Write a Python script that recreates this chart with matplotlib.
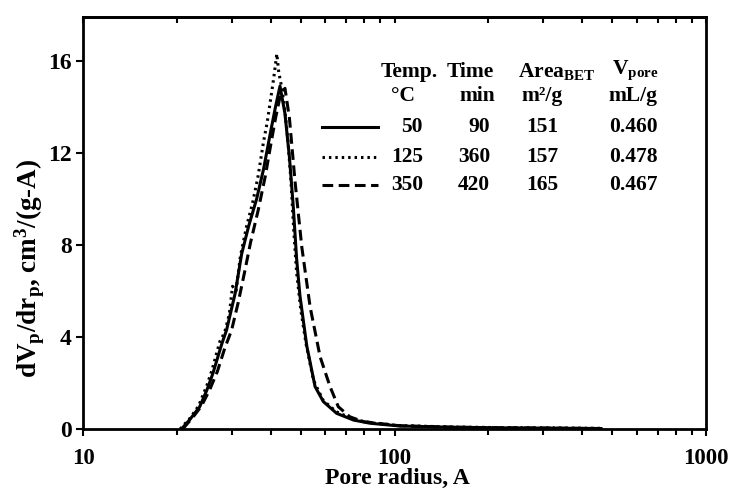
import numpy as np
import matplotlib
matplotlib.use('Agg')
import matplotlib.pyplot as plt
from matplotlib.ticker import LogLocator, NullFormatter, FixedLocator

plt.rcParams.update({
    "font.family": "Liberation Serif",
    "font.weight": "bold",
    "axes.labelweight": "bold",
    "mathtext.fontset": "custom",
    "mathtext.rm": "Liberation Serif:bold",
    "mathtext.bf": "Liberation Serif:bold",
    "mathtext.it": "Liberation Serif:bold",
})

# pore size distributions (r in A, dV/dr in cm3/(g-A))
r_50 = [20.7, 22.0, 23.7, 25.0, 26.1, 27.9, 28.9, 30.8, 32.3, 34.0, 36.1, 38.0, 40.0,
        41.5, 42.9, 44.5, 46.0, 47.3, 48.5, 49.7, 52.3, 55.6, 59.1, 65.2, 73.8, 83.5,
        104, 150, 220, 300, 460]
v_50 = [0.0, 0.4, 0.97, 1.7, 2.4, 3.7, 4.3, 5.9, 7.6, 8.8, 10.0, 11.3, 12.9,
        14.0, 14.9, 13.7, 11.8, 9.7, 7.4, 5.8, 3.6, 1.84, 1.19, 0.68, 0.39, 0.25,
        0.13, 0.08, 0.05, 0.04, 0.02]

r_125 = [20.5, 22.0, 23.5, 25.0, 26.0, 27.5, 28.5, 29.5, 30.2, 31.0, 32.0, 33.5, 35.0,
         36.5, 38.0, 39.0, 40.0, 41.0, 41.9, 42.5, 43.5, 44.5, 45.5, 46.5, 47.5, 48.5,
         50.0, 52.0, 55.0, 59.0, 65.0, 74.0, 84.0, 104, 150, 220, 300, 460]
v_125 = [0.0, 0.45, 1.0, 1.9, 2.6, 3.8, 4.2, 5.0, 6.2, 6.0, 7.5, 8.8, 9.8,
         11.0, 12.5, 13.3, 14.3, 15.3, 16.3, 15.5, 14.8, 13.8, 12.5, 10.8, 8.6, 6.8,
         5.2, 3.7, 2.1, 1.25, 0.75, 0.42, 0.27, 0.15, 0.09, 0.06, 0.05, 0.03]

r_350 = [20.9, 22.5, 24.0, 25.5, 27.0, 28.5, 30.0, 31.5, 33.0, 34.5, 36.5, 38.5, 40.0,
         41.5, 43.0, 44.5, 46.0, 47.9, 50.4, 53.6, 57.7, 62.1, 66.0, 71.9, 79.3,
         104, 150, 220, 300, 460]
v_350 = [0.0, 0.5, 1.0, 1.7, 2.5, 3.5, 4.3, 5.5, 6.8, 8.1, 9.5, 11.0, 12.3,
         13.5, 14.5, 14.8, 13.5, 10.8, 7.9, 5.3, 3.14, 1.84, 0.97, 0.53, 0.32,
         0.14, 0.08, 0.05, 0.04, 0.02]

# legend table
temps = ['50', '125', '350']
times = ['90', '360', '420']
areas = ['151', '157', '165']
vpores = ['0.460', '0.478', '0.467']

dot_ls = (0, (0.8, 1.3))
dash_ls = (0, (3.5, 1.8))
styles = ['-', dot_ls, dash_ls]

fig = plt.figure(figsize=(7.3, 4.9), dpi=100)
ax = fig.add_axes([83/730, 61/490, 623/730, 412/490])

ax.plot(r_50, v_50, color='k', lw=2.2, ls=styles[0])
ax.plot(r_125, v_125, color='k', lw=2.2, ls=styles[1])
ax.plot(r_350, v_350, color='k', lw=2.2, ls=styles[2])

ax.set_xscale('log')
ax.set_xlim(10, 1000)
ax.set_ylim(0, 17.9)
ax.yaxis.set_major_locator(FixedLocator([0, 4, 8, 12, 16]))
ax.xaxis.set_minor_locator(LogLocator(base=10, subs=np.arange(2, 10)))
ax.xaxis.set_minor_formatter(NullFormatter())
ax.set_xticks([10, 100, 1000])
ax.set_xticklabels(['10', '100', '1000'])

for s in ax.spines.values():
    s.set_linewidth(2.0)
ax.tick_params(axis='both', which='major', labelsize=17, width=1.5, length=5, direction='out')
ax.tick_params(axis='x', which='minor', width=1.5, length=4, direction='out')
ax.tick_params(axis='x', which='major', labelsize=16.5, pad=9)
ax.tick_params(axis='y', which='major', pad=3)

# inward ticks on the top spine
top = ax.secondary_xaxis('top')
top.set_xticks([10, 100, 1000])
top.xaxis.set_minor_locator(LogLocator(base=10, subs=np.arange(2, 10)))
top.xaxis.set_minor_formatter(NullFormatter())
top.tick_params(axis='x', which='both', direction='in', length=4, width=1.5, labeltop=False)
top.spines['top'].set_linewidth(2.0)

ax.set_xlabel('Pore radius, A', fontsize=17)
ax.xaxis.label.set_va('center')
ax.xaxis.set_label_coords(0.505, -0.121)
ax.set_ylabel(r'dV$_{\rm p}$/dr$_{\rm p}$, cm$^{3}$/(g-A)', fontsize=19.5)
ax.yaxis.label.set_va('center')
ax.yaxis.set_label_coords(-0.085, 0.39)

# table-style legend
fs = 15.5
tr = fig.transFigure


def px(x, y):
    return x / 730, 1 - y / 490


for (x, y, txt) in [(409, 72, 'Temp.'), (470, 72, 'Time'),
                    (557, 72, r'Area$_{\rm BET}$'), (635, 70, r'V$_{\rm pore}$'),
                    (403, 96, '°C'), (477, 96, 'min'), (542, 96, 'm²/g'), (633, 96, 'mL/g')]:
    fig.text(*px(x, y), txt, fontsize=fs, ha='center', va='center')

rows_y = [127, 157, 185]
for i in range(3):
    y = rows_y[i]
    fig.add_artist(plt.Line2D([322 / 730, 378 / 730], [1 - y / 490, 1 - y / 490],
                              transform=tr, color='k', lw=2.2, ls=styles[i]))
    fig.text(*px(423, y), temps[i], fontsize=fs, ha='right', va='center')
    fig.text(*px(490, y), times[i], fontsize=fs, ha='right', va='center')
    fig.text(*px(542, y), areas[i], fontsize=fs, ha='center', va='center')
    fig.text(*px(633, y), vpores[i], fontsize=fs, ha='center', va='center')

fig.savefig('out.png', dpi=100)
